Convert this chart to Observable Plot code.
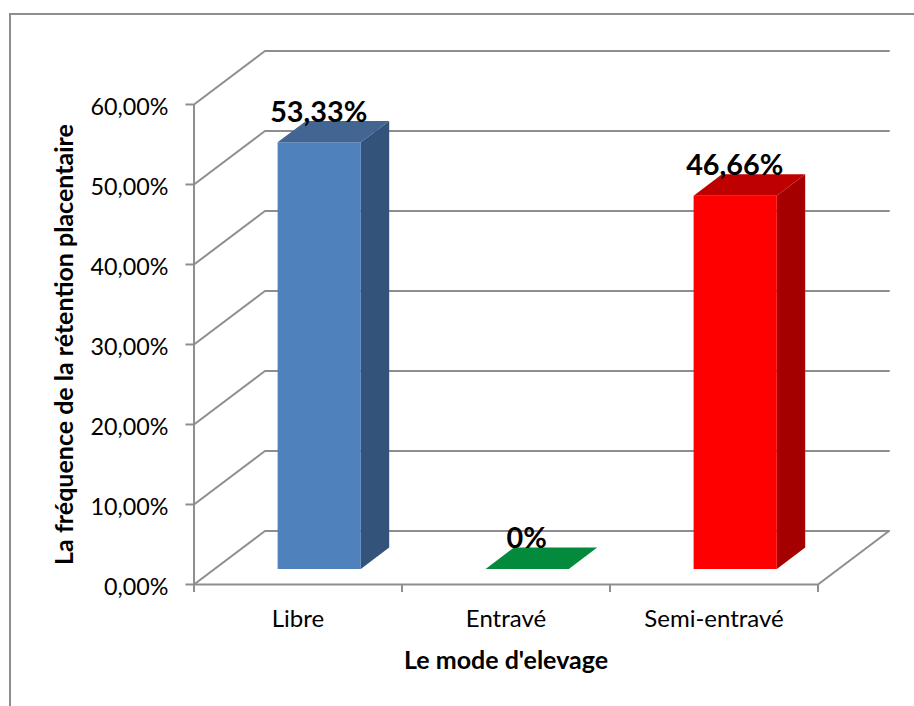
<!DOCTYPE html>
<html lang="fr">
<head>
<meta charset="utf-8">
<title>Rétention placentaire selon le mode d'élevage</title>
<script src="https://cdn.jsdelivr.net/npm/d3@7"></script>
<script src="https://cdn.jsdelivr.net/npm/@observablehq/plot@0.6"></script>
<style>
  html, body { margin: 0; padding: 0; background: #fff; }
  #chart { position: relative; width: 914px; height: 706px; overflow: hidden; }
  #frame { position: absolute; left: 8.5px; top: 13px; right: -4px; bottom: -4px;
           border: 2px solid #8e8e8e; }
  #chart svg { position: absolute; left: 0; top: 0; display: block; background: transparent; }
</style>
</head>
<body>
<div id="chart"><div id="frame"></div></div>
<script>
// Series
const categories = ["Libre", "Entravé", "Semi-entravé"];
const frequencies = [53.33, 0, 46.66];
const valueLabels = ["53,33%", "0%", "46,66%"];
const yTicks = [0, 10, 20, 30, 40, 50, 60];
const yTickLabels = ["0,00%", "10,00%", "20,00%", "30,00%", "40,00%", "50,00%", "60,00%"];

// Face colours of each column: front, top, side
const frontColors = ["#4f81bd", "#048a3c", "#ff0000"];
const topColors = ["#426592", "#048a3c", "#bf0000"];
const sideColors = ["#34537a", "#048a3c", "#a50000"];

// Oblique projection: one unit of depth moves a point by these amounts in data units
const depthX = 0.3413;
const depthY = 6.69;
const barStart = 0.303, barWidth = 0.4;
const barDepthNear = 0.29, barDepthFar = 0.69;

const project = (cat, value, depth) => ({
  x: cat + depth * depthX,
  y: value + depth * depthY
});

// Wall and floor lines of the 3D box
const gridLines = [];
yTicks.forEach((v) => {
  gridLines.push({id: `w${v}`, ...project(0, v, 0)}, {id: `w${v}`, ...project(0, v, 1)}, {id: `w${v}`, ...project(3, v, 1)});
});
gridLines.push({id: "floor", ...project(3, 0, 0)}, {id: "floor", ...project(3, 0, 1)});

// One closed polygon per visible column face
const faces = [];
categories.forEach((c, i) => {
  const v = frequencies[i];
  const x0 = i + barStart, x1 = x0 + barWidth;
  const add = (name, color, pts) => pts.forEach((p) => faces.push({id: `${c}-${name}`, color, ...project(...p)}));
  if (v > 0) {
    add("side", sideColors[i], [[x1, 0, barDepthNear], [x1, 0, barDepthFar], [x1, v, barDepthFar], [x1, v, barDepthNear]]);
    add("front", frontColors[i], [[x0, 0, barDepthNear], [x1, 0, barDepthNear], [x1, v, barDepthNear], [x0, v, barDepthNear]]);
  }
  add("top", topColors[i], [[x0, v, barDepthNear], [x1, v, barDepthNear], [x1, v, barDepthFar], [x0, v, barDepthFar]]);
});

const labels = categories.map((c, i) => ({
  ...project(i + barStart + barWidth / 2, frequencies[i], barDepthNear),
  text: valueLabels[i]
}));

const gray = "#8e8e8e";
const lineWidth = 2;
const font = "Lato, Carlito, sans-serif";

const plot = Plot.plot({
  width: 914,
  height: 706,
  marginLeft: 193.5,
  marginRight: 96.5,
  marginTop: 104,
  marginBottom: 122,
  style: {fontFamily: font, color: "#000", background: "transparent"},
  x: {domain: [0, 3], axis: null},
  y: {domain: [0, 60], axis: null},
  marks: [
    Plot.line(gridLines, {x: "x", y: "y", z: "id", stroke: gray, strokeWidth: lineWidth}),
    Plot.ruleX([0], {y1: 0, y2: 60, stroke: gray, strokeWidth: lineWidth}),
    Plot.ruleY([0], {x1: 0, x2: 3, stroke: gray, strokeWidth: lineWidth}),
    Plot.axisY({ticks: yTicks, tickSize: 8, stroke: gray, strokeWidth: lineWidth, tickFormat: () => "", label: null}),
    Plot.axisY({
      ticks: yTicks,
      tickSize: 0,
      tickPadding: 26,
      dx: 0.5,
      dy: 3,
      tickFormat: (v) => yTickLabels[yTicks.indexOf(v)],
      fontSize: 23.3,
      fill: "#000",
      label: null
    }),
    Plot.axisX({ticks: [0, 1, 2, 3], tickSize: 8, stroke: gray, strokeWidth: lineWidth, tickFormat: () => "", label: null}),
    Plot.axisX({
      ticks: [0.5, 1.5, 2.5],
      tickSize: 0,
      tickPadding: 25,
      tickFormat: (v) => categories[Math.floor(v)],
      fontSize: 24,
      fill: "#000",
      label: null
    }),
    Plot.axisX({
      ticks: [],
      label: "Le mode d'elevage",
      labelAnchor: "center",
      labelArrow: "none",
      labelOffset: 84,
      fontSize: 25,
      fontWeight: "bold",
      fill: "#000"
    }),
    Plot.axisY({
      ticks: [],
      label: "La fréquence de la rétention placentaire",
      labelAnchor: "center",
      labelArrow: "none",
      labelOffset: 139,
      fontSize: 25,
      fontWeight: "bold",
      fill: "#000"
    }),
    Plot.line(faces, {x: "x", y: "y", z: "id", fill: "color", stroke: "none"}),
    Plot.text(labels, {
      x: "x",
      y: "y",
      text: "text",
      dx: -0.5,
      dy: -30,
      fontSize: 28.8,
      fontWeight: "bold",
      fill: "#000"
    })
  ]
});

document.getElementById("chart").appendChild(plot);
</script>
</body>
</html>
